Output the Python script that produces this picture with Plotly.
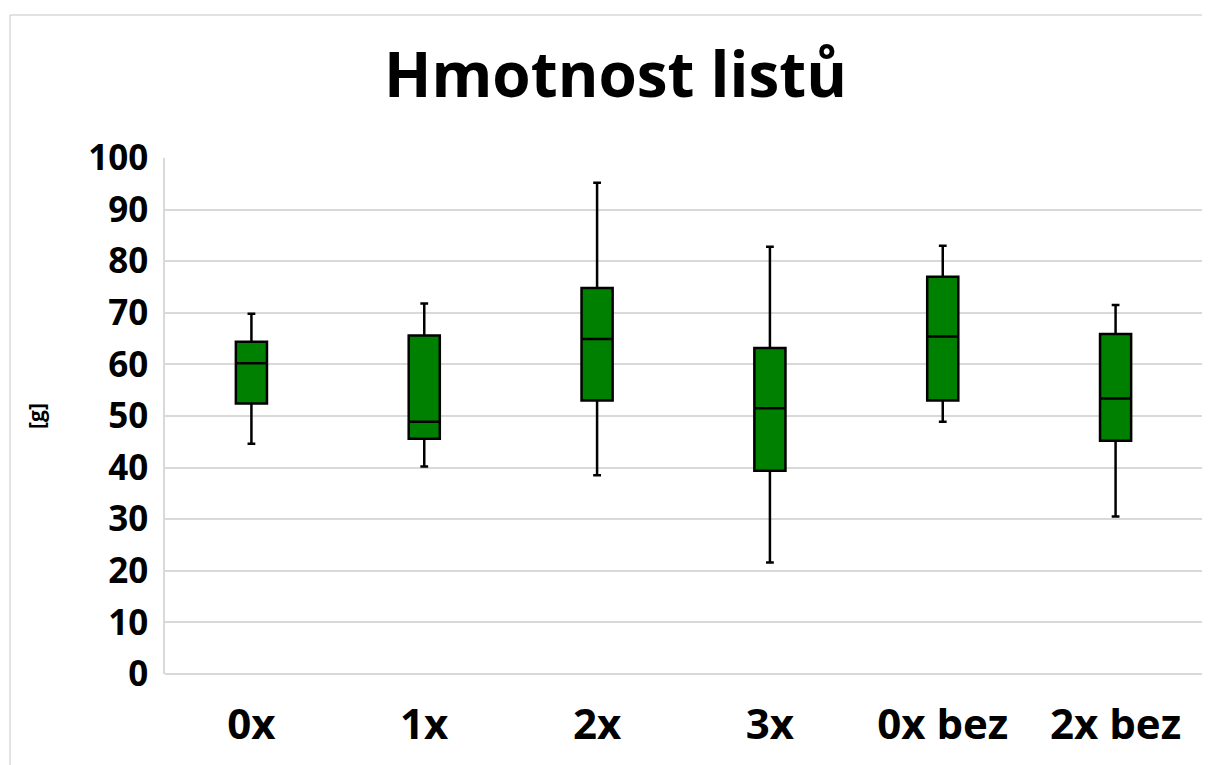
import plotly.graph_objects as go

categories = ["0x", "1x", "2x", "3x", "0x bez", "2x bez"]
lower_whisker = [44.6, 40.2, 38.5, 21.6, 48.9, 30.5]
q1_values = [52.4, 45.6, 53.0, 39.4, 53.0, 45.2]
medians = [60.2, 48.9, 64.9, 51.5, 65.4, 53.4]
q3_values = [64.4, 65.6, 74.8, 63.2, 77.0, 65.9]
upper_whisker = [69.8, 71.8, 95.2, 82.8, 83.0, 71.5]
y_ticks = list(range(0, 101, 10))

FONT = "Open Sans"

# page body has an 8px margin, so the figure is laid out 8px smaller
W, H = 1202, 757
ML, MR, MT, MB = 157, 8, 150, 91
PW = W - ML - MR
PH = H - MT - MB

# outer chart frame (top and left edges visible), in paper coords
fx0 = (2 - ML) / PW
fy1 = (H - MB - 7) / PH

fig = go.Figure()
fig.add_trace(go.Box(
    x=categories,
    q1=q1_values,
    median=medians,
    q3=q3_values,
    lowerfence=lower_whisker,
    upperfence=upper_whisker,
    fillcolor="#008000",
    line=dict(color="#000000", width=2.5),
    width=0.18,
    whiskerwidth=0.25,
    boxpoints=False,
    hoverinfo="skip",
    showlegend=False,
))

fig.update_layout(
    width=W,
    height=H,
    paper_bgcolor="white",
    plot_bgcolor="white",
    margin=dict(l=ML, r=MR, t=MT, b=MB, autoexpand=False),
    title=dict(
        text="<b>Hmotnost listů</b>",
        font=dict(family=FONT, size=62, color="#000000"),
        x=(615.5 - 8) / W,
        xref="container",
        xanchor="center",
        y=0.911,
        yref="container",
        yanchor="middle",
    ),
    xaxis=dict(
        type="category",
        categoryorder="array",
        categoryarray=categories,
        range=[-0.5, len(categories) - 0.5],
        showgrid=False,
        showline=False,
        ticks="",
        tickfont=dict(family=FONT, size=42, color="#000000", weight="bold"),
        ticklabelstandoff=22,
    ),
    yaxis=dict(
        range=[0, 100],
        tickvals=y_ticks,
        showgrid=True,
        gridcolor="#d9d9d9",
        gridwidth=1.5,
        zeroline=True,
        zerolinecolor="#d9d9d9",
        zerolinewidth=1.5,
        showline=True,
        linecolor="#d9d9d9",
        linewidth=1.5,
        ticks="",
        tickfont=dict(family=FONT, size=35, color="#000000", weight="bold"),
        ticklabelstandoff=8,
        title=dict(
            text="<b>[g]</b>",
            font=dict(family=FONT, size=21, color="#000000"),
            standoff=38,
        ),
    ),
    shapes=[
        dict(type="line", xref="paper", yref="paper",
             x0=fx0, x1=(W + 50 - ML) / PW, y0=fy1, y1=fy1,
             line=dict(color="#d9d9d9", width=1.5), layer="below"),
        dict(type="line", xref="paper", yref="paper",
             x0=fx0, x1=fx0, y0=-(MB + 60) / PH, y1=fy1,
             line=dict(color="#d9d9d9", width=1.5), layer="below"),
    ],
)

fig.write_html("out.html")
